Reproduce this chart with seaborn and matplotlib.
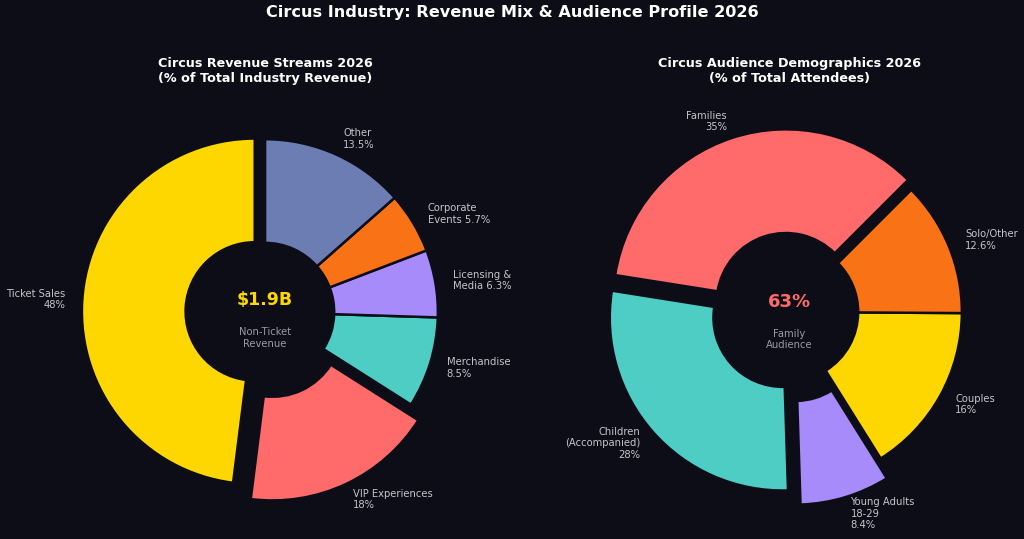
import matplotlib
matplotlib.use("Agg")
import matplotlib.pyplot as plt
import seaborn as sns

BG = "#0d0d18"
sns.set_theme(style="dark", rc={"figure.facecolor": BG, "axes.facecolor": BG,
                                "savefig.facecolor": BG})
plt.rcParams["font.family"] = ["DejaVu Sans"]

# ---- data ----
rev_labels = ["Ticket Sales\n48%", "VIP Experiences\n18%", "Merchandise\n8.5%",
              "Licensing &\nMedia 6.3%", "Corporate\nEvents 5.7%", "Other\n13.5%"]
rev_values = [48, 18, 8.5, 6.3, 5.7, 13.5]
rev_colors = sns.color_palette(["#FFD700", "#FF6B6B", "#4ECDC4", "#A78BFA", "#F97316", "#6B7DB3"])
rev_explode = [0.06, 0.1, 0, 0, 0, 0]

aud_labels = ["Families\n35%", "Children\n(Accompanied)\n28%", "Young Adults\n18-29\n8.4%",
              "Couples\n16%", "Solo/Other\n12.6%"]
aud_values = [35, 28, 8.4, 16, 12.6]
aud_colors = sns.color_palette(["#FF6B6B", "#4ECDC4", "#A78BFA", "#FFD700", "#F97316"])
aud_explode = [0.06, 0.05, 0.12, 0, 0]

fig = plt.figure(figsize=(10.24, 5.39), dpi=100)
ax1 = fig.add_axes([0.0479, 0.0204, 0.4219, 0.8015])
ax2 = fig.add_axes([0.5596, 0.0204, 0.4219, 0.8015])

label_color = "#c4c4cc"

def donut(ax, vals, labels, colors, explode, start):
    wedges, texts = ax.pie(vals, labels=labels, colors=colors, explode=explode,
                           startangle=start, counterclock=True, labeldistance=1.1,
                           wedgeprops=dict(width=0.6, edgecolor=BG, linewidth=1.8),
                           textprops=dict(color=label_color, fontsize=7.2))
    for t in texts:
        t.set_multialignment(t.get_horizontalalignment())
    ax.set_aspect("equal")
    return wedges, texts

donut(ax1, rev_values, rev_labels, rev_colors, rev_explode, 90)
donut(ax2, aud_values, aud_labels, aud_colors, aud_explode, 45)

ax1.text(0, 0.07, "$1.9B", ha="center", va="center", color="#FFD700",
         fontsize=12.5, fontweight="bold")
ax1.text(0, -0.15, "Non-Ticket\nRevenue", ha="center", va="center", color="#9a9aa6",
         fontsize=7.2)
ax2.text(0, 0.06, "63%", ha="center", va="center", color="#FF6B6B",
         fontsize=13, fontweight="bold")
ax2.text(0, -0.16, "Family\nAudience", ha="center", va="center", color="#9a9aa6",
         fontsize=7.2)

ax1.set_title("Circus Revenue Streams 2026\n(% of Total Industry Revenue)",
              color="white", fontsize=9.2, fontweight="bold", pad=10)
ax2.set_title("Circus Audience Demographics 2026\n(% of Total Attendees)",
              color="white", fontsize=9.2, fontweight="bold", pad=10)

fig.suptitle("Circus Industry: Revenue Mix & Audience Profile 2026", color="white",
             fontsize=11.6, fontweight="bold", y=0.99)

fig.savefig("out.png", dpi=100, facecolor=BG)
